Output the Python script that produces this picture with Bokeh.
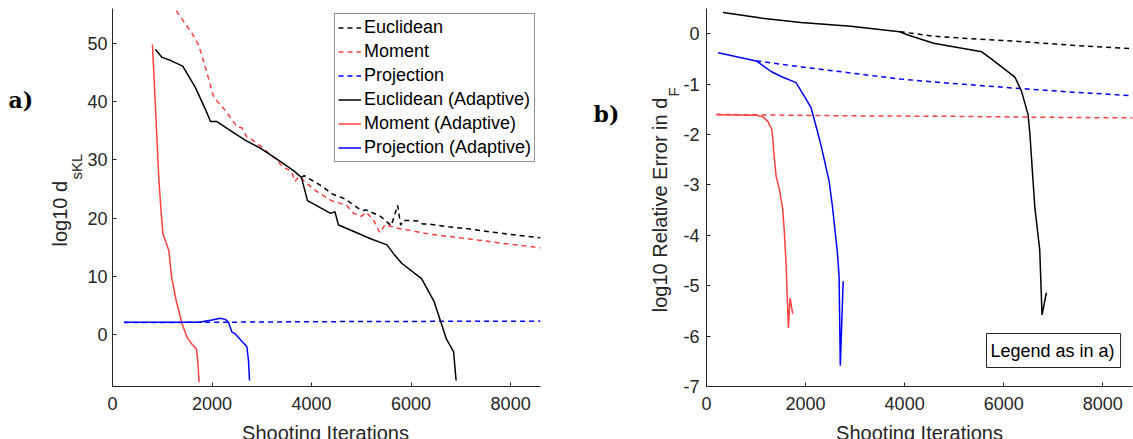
import math
from bokeh.plotting import figure
from bokeh.layouts import row, column
from bokeh.models import Range1d, FixedTicker, Label, Legend, LegendItem
from bokeh.embed import file_html
from bokeh.resources import INLINE

# ---------------- data: panel a) log10 d_sKL ----------------
A_EUC_X = [3796, 3850, 4240, 4400, 4669, 4956, 5033, 5099, 5386, 5601, 5730, 5790,
           5840, 5960, 6140, 6230, 6320, 6750, 7100, 7800, 8600]
A_EUC_Y = [27.0, 27.3, 25.3, 24.2, 23.3, 21.6, 21.3, 21.4, 20.3, 18.7, 22.2, 18.8,
           19.6, 19.6, 19.5, 19.0, 19.0, 18.5, 18.2, 17.4, 16.6]
A_MOM_X = [1200, 1320, 1600, 1733, 1867, 2033, 2267, 2500, 2600, 2700, 2767, 3000,
           3267, 3433, 3600, 3667, 3750, 3870, 4100, 4400, 4700, 4850, 5000, 5100,
           5250, 5370, 5480, 5700, 6400, 7100, 7800, 8600]
A_MOM_Y = [57.0, 55.1, 51.7, 49.7, 45.9, 40.8, 38.5, 35.7, 35.5, 33.9, 33.7, 32.2,
           30.2, 28.7, 28.0, 26.3, 27.2, 26.2, 24.6, 23.0, 22.2, 20.8, 20.3, 21.0,
           19.6, 17.5, 18.9, 18.3, 17.2, 16.5, 15.7, 14.9]
A_PROJ_X = [233, 2000, 4000, 6000, 8600]
A_PROJ_Y = [2.05, 2.1, 2.2, 2.25, 2.3]
A_EUC_AD_X = [859, 996, 1160, 1411, 1661, 1876, 1970, 2091, 2378, 2664, 2951, 3237,
              3631, 3796, 3918, 4383, 4469, 4540, 4956, 5171, 5515, 5673, 5816, 6210,
              6460, 6711, 6854, 6904]
A_EUC_AD_Y = [49.0, 47.6, 47.1, 46.1, 42.5, 38.5, 36.6, 36.6, 35.0, 33.4, 32.1, 30.5,
              28.2, 27.0, 23.0, 20.8, 21.1, 18.8, 17.3, 16.5, 15.4, 13.6, 12.2, 9.6,
              5.7, -0.8, -3.0, -7.9]
A_MOM_AD_X = [802, 838, 888, 933, 980, 1013, 1133, 1187, 1280, 1347, 1400, 1500,
              1600, 1687, 1713, 1740]
A_MOM_AD_Y = [49.8, 43.6, 34.5, 26.5, 20.7, 17.3, 14.4, 9.9, 5.8, 3.6, 1.8, -0.5,
              -1.7, -2.5, -4.5, -8.2]
A_PROJ_AD_X = [233, 800, 1733, 2000, 2167, 2267, 2333, 2400, 2467, 2700, 2733, 2753]
A_PROJ_AD_Y = [2.1, 2.1, 2.1, 2.5, 2.8, 2.6, 2.1, 0.4, 0.1, -2.1, -4.5, -7.9]

# ---------------- data: panel b) log10 relative error in d_F ----------------
B_EUC_X = [3902, 4585, 5500, 6225, 7400, 8600]
B_EUC_Y = [0.04, -0.05, -0.11, -0.15, -0.23, -0.30]
B_MOM_X = [201, 1004, 3000, 5000, 7000, 8600]
B_MOM_Y = [-1.60, -1.61, -1.63, -1.64, -1.66, -1.67]
B_PROJ_X = [1004, 2000, 3000, 3915, 5000, 6225, 7400, 8600]
B_PROJ_Y = [-0.54, -0.67, -0.79, -0.90, -0.99, -1.08, -1.16, -1.23]
B_EUC_AD_X = [335, 1104, 1908, 2912, 3902, 4050, 4585, 5556, 5723, 6225, 6359, 6493,
              6527, 6627, 6727, 6774, 6861]
B_EUC_AD_Y = [0.42, 0.31, 0.22, 0.15, 0.04, -0.02, -0.19, -0.36, -0.48, -0.86, -1.14,
              -1.61, -1.97, -3.43, -4.29, -5.58, -5.14]
B_MOM_AD_X = [201, 1004, 1138, 1239, 1319, 1339, 1372, 1406, 1473, 1540, 1573, 1606,
              1627, 1653, 1687, 1740]
B_MOM_AD_Y = [-1.61, -1.62, -1.65, -1.74, -1.90, -2.10, -2.50, -2.83, -3.10, -3.49,
              -3.96, -4.55, -5.14, -5.84, -5.24, -5.56]
B_PROJ_AD_X = [235, 1004, 1305, 1506, 1807, 1974, 2108, 2229, 2309, 2476, 2543, 2643,
               2677, 2701, 2759]
B_PROJ_AD_Y = [-0.38, -0.54, -0.75, -0.85, -0.97, -1.24, -1.46, -1.90, -2.20, -2.93,
               -3.43, -4.35, -4.82, -6.59, -4.91]

# ---------------- ticks and texts ----------------
X_TICKS = [0, 2000, 4000, 6000, 8000]
X_LABELS = ["0", "2000", "4000", "6000", "8000"]
A_Y_TICKS = [0, 10, 20, 30, 40, 50]
A_Y_LABELS = ["0", "10", "20", "30", "40", "50"]
B_Y_TICKS = [-7, -6, -5, -4, -3, -2, -1, 0]
B_Y_LABELS = ["-7", "-6", "-5", "-4", "-3", "-2", "-1", "0"]

SERIES = ["Euclidean", "Moment", "Projection",
          "Euclidean (Adaptive)", "Moment (Adaptive)", "Projection (Adaptive)"]
X_TITLE = "Shooting Iterations"
A_Y_TITLE, A_Y_SUB = "log10 d", "sKL"
B_Y_TITLE, B_Y_SUB = "log10 Relative Error in d", "F"

FONT = "Liberation Sans"
AX = "#262626"
BLACK = "#000000"
RED = "#ff4040"
BLUE = "#0000ff"
DASH = "5 4"
LW = 1.5
TOP_H = 421          # row holding the two panels
BOT_H = 439 - TOP_H  # strip under the panels holding the x titles
FRAME_TOP = 8
FRAME_BOTTOM = 386   # page y of the x axes (frames of a row are aligned)
SHIFT = 0.36         # baseline offset of Bokeh's text anchor, in em


def make_fig(width, border_left, border_right, x_end, y_start, y_end):
    p = figure(width=width, height=TOP_H, x_range=Range1d(0, x_end),
               y_range=Range1d(y_start, y_end), output_backend="svg",
               toolbar_location=None, min_border_left=border_left,
               min_border_right=border_right, min_border_top=FRAME_TOP,
               min_border_bottom=TOP_H - FRAME_BOTTOM)
    p.xgrid.visible = False
    p.ygrid.visible = False
    p.outline_line_color = None
    p.background_fill_color = "white"
    p.border_fill_color = "white"
    return p


def blank_fig(width, height):
    f = figure(width=width, height=height, x_range=Range1d(0, 1),
               y_range=Range1d(0, 1), output_backend="svg",
               toolbar_location=None, x_axis_type=None, y_axis_type=None,
               min_border=0, title=None)
    f.outline_line_color = None
    f.background_fill_color = "white"
    f.border_fill_color = "white"
    return f


def style_axes(p, yticks, ylabels, ystandoff):
    p.xaxis.ticker = FixedTicker(ticks=X_TICKS)
    p.xaxis.major_label_overrides = dict(zip(X_TICKS, X_LABELS))
    p.yaxis.ticker = FixedTicker(ticks=yticks)
    p.yaxis.major_label_overrides = dict(zip(yticks, ylabels))
    for ax in (p.xaxis, p.yaxis):
        ax.axis_line_color = AX
        ax.axis_line_width = 1
        ax.major_tick_line_color = AX
        ax.major_tick_in = 4
        ax.major_tick_out = 0
        ax.minor_tick_line_color = None
        ax.major_label_text_font = FONT
        ax.major_label_text_font_size = "18px"
        ax.major_label_text_color = AX
    p.xaxis.major_label_standoff = 10
    p.yaxis.major_label_standoff = ystandoff


def hlabel(f, x, y_base_from_bottom, text, size, font=FONT, align="left",
           style="normal", color=AX):
    """Horizontal text whose baseline sits y_base_from_bottom above the frame bottom."""
    f.add_layout(Label(x=x, y=y_base_from_bottom + SHIFT * size,
                       x_units="screen", y_units="screen", text=text,
                       text_font=font, text_font_size=f"{size}px",
                       text_align=align, text_baseline="alphabetic",
                       text_font_style=style, text_color=color))


def vlabel(f, x_base, y_start_from_bottom, text, size):
    """Text rotated 90 deg (reading upward) whose baseline is at x_base."""
    f.add_layout(Label(x=x_base - SHIFT * size, y=y_start_from_bottom,
                       x_units="screen", y_units="screen", text=text,
                       text_font=FONT, text_font_size=f"{size}px",
                       text_align="left", text_baseline="alphabetic",
                       angle=math.pi / 2, text_color=AX))


# ================= panel a) =================
FA_W = 84
pa = make_fig(590 - FA_W, 110 - FA_W, 50, 8600, -8.93, 56.0)
style_axes(pa, A_Y_TICKS, A_Y_LABELS, 5)

ra1 = pa.line(A_EUC_X, A_EUC_Y, line_color=BLACK, line_width=LW, line_dash=DASH)
ra2 = pa.line(A_MOM_X, A_MOM_Y, line_color=RED, line_width=LW, line_dash=DASH)
ra3 = pa.line(A_PROJ_X, A_PROJ_Y, line_color=BLUE, line_width=LW, line_dash=DASH)
ra4 = pa.line(A_EUC_AD_X, A_EUC_AD_Y, line_color=BLACK, line_width=LW)
ra5 = pa.line(A_MOM_AD_X, A_MOM_AD_Y, line_color=RED, line_width=LW)
ra6 = pa.line(A_PROJ_AD_X, A_PROJ_AD_Y, line_color=BLUE, line_width=LW)

legend = Legend(items=[LegendItem(label=s, renderers=[r]) for s, r in
                       zip(SERIES, [ra1, ra2, ra3, ra4, ra5, ra6])],
                location=(222, 224), orientation="vertical",
                label_text_font=FONT, label_text_font_size="18px",
                label_text_color="black", glyph_width=23, glyph_height=21,
                label_height=21, label_standoff=3, spacing=3, padding=3,
                margin=0, border_line_color=AX, border_line_width=1,
                background_fill_color="white", background_fill_alpha=1.0)
pa.add_layout(legend)

# strip left of panel a): panel tag and y title (frame aligned with pa's frame)
fa = blank_fig(FA_W, TOP_H)
hlabel(fa, 8, FRAME_BOTTOM - 107.5, "a)", 22, font="DejaVu Serif",
       style="bold", color="black")
vlabel(fa, 67, FRAME_BOTTOM - 246, A_Y_TITLE, 20)
vlabel(fa, 81, FRAME_BOTTOM - 179, A_Y_SUB, 15)

# ================= panel b) =================
FB_W = 90
pb = make_fig(543 - FB_W, 705 - 590 - FB_W, 1, 8600, -7.0, 0.5)
style_axes(pb, B_Y_TICKS, B_Y_LABELS, 7)

pb.line(B_EUC_X, B_EUC_Y, line_color=BLACK, line_width=LW, line_dash=DASH)
pb.line(B_MOM_X, B_MOM_Y, line_color=RED, line_width=LW, line_dash=DASH)
pb.line(B_PROJ_X, B_PROJ_Y, line_color=BLUE, line_width=LW, line_dash=DASH)
pb.line(B_EUC_AD_X, B_EUC_AD_Y, line_color=BLACK, line_width=LW)
pb.line(B_MOM_AD_X, B_MOM_AD_Y, line_color=RED, line_width=LW)
pb.line(B_PROJ_AD_X, B_PROJ_AD_Y, line_color=BLUE, line_width=LW)

note = Label(x=280, y=36, x_units="screen", y_units="screen",
             text="Legend as in a)", text_font=FONT, text_font_size="18px",
             text_align="left", text_baseline="middle", text_color="black",
             border_line_color=AX, border_line_width=1,
             background_fill_color="white",
             padding=dict(left=4, right=6, top=7, bottom=7))
pb.add_layout(note)

fb = blank_fig(FB_W, TOP_H)
hlabel(fb, 3, FRAME_BOTTOM - 121.7, "b)", 22, font="DejaVu Serif",
       style="bold", color="black")
vlabel(fb, 667 - 590, FRAME_BOTTOM - 311.7, B_Y_TITLE, 20)
vlabel(fb, 678 - 590, FRAME_BOTTOM - 96, B_Y_SUB, 15)

# ================= strip with the x titles =================
fx = blank_fig(1133, BOT_H)
hlabel(fx, 325, -0.3, X_TITLE, 20, align="center")
hlabel(fx, 919, -0.3, X_TITLE, 20, align="center")

layout = column(row(fa, pa, fb, pb, spacing=0), fx, spacing=0)
open("out.html", "w").write(file_html(layout, INLINE))
